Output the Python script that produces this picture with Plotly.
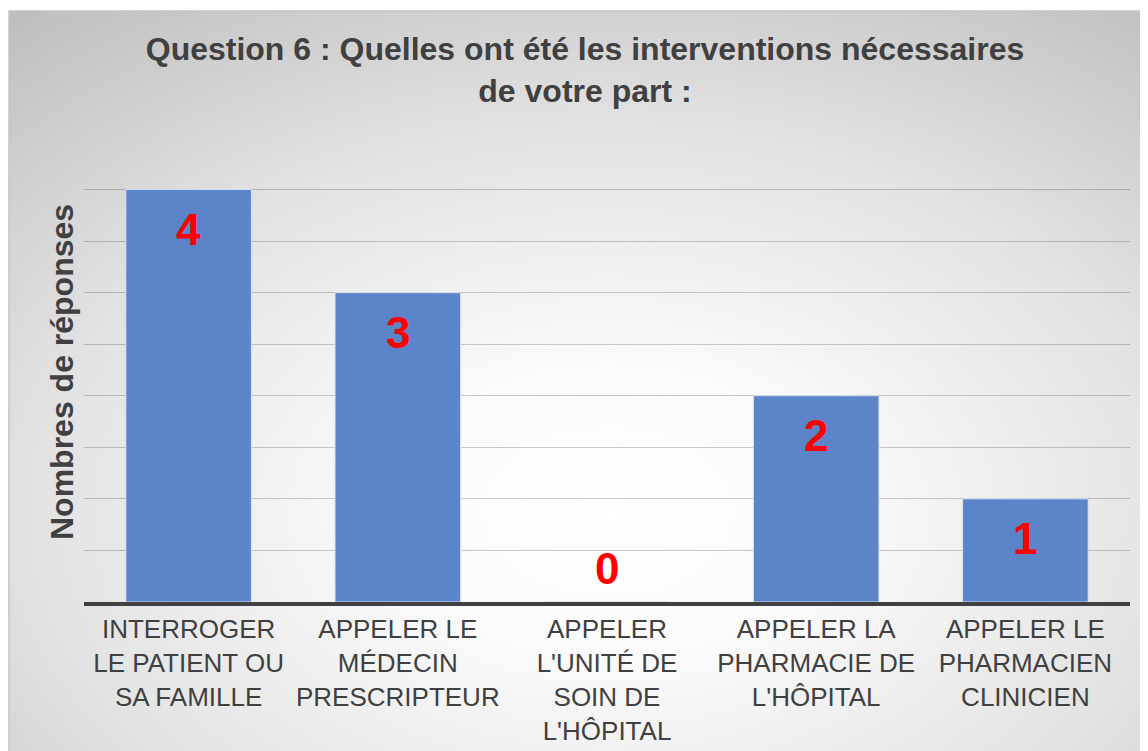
import base64
import plotly.graph_objects as go

categories = [
    "INTERROGER<br>LE PATIENT OU<br>SA FAMILLE",
    "APPELER LE<br>MÉDECIN<br>PRESCRIPTEUR",
    "APPELER<br>L'UNITÉ DE<br>SOIN DE<br>L'HÔPITAL",
    "APPELER LA<br>PHARMACIE DE<br>L'HÔPITAL",
    "APPELER LE<br>PHARMACIEN<br>CLINICIEN",
]
values = [4, 3, 0, 2, 1]
title_text = "Question 6 : Quelles ont été les interventions nécessaires<br>de votre part :"
y_title = "Nombres de réponses"

FONT = "Liberation Sans, Arial, sans-serif"
TXT = "#404040"

OFF = 8  # page body margin
W, H = 1148, 751
ML, MT = 84 - OFF, 138 - OFF
MR = W - (1130 - OFF)
MB = H - (602 - OFF)
PW, PH = W - ML - MR, H - MT - MB

def px_to_paper_x(px):
    return (px - OFF - ML) / PW

def px_to_paper_y(py):
    return (H - MB - (py - OFF)) / PH

svg = """<svg xmlns='http://www.w3.org/2000/svg' width='1132' height='750' viewBox='0 0 1 1' preserveAspectRatio='none'>
<defs><radialGradient id='g' cx='0.53' cy='0.66' r='0.85' gradientUnits='objectBoundingBox'>
<stop offset='0' stop-color='#ffffff'/>
<stop offset='0.22' stop-color='#fbfbfb'/>
<stop offset='0.6' stop-color='#e2e2e2'/>
<stop offset='1' stop-color='#bdbdbd'/>
</radialGradient></defs>
<rect x='0' y='0' width='1' height='1' fill='url(#g)'/>
</svg>"""
uri = "data:image/svg+xml;base64," + base64.b64encode(svg.encode()).decode()

bx0, bx1, by0, by1 = px_to_paper_x(9), px_to_paper_x(1141), px_to_paper_y(11), px_to_paper_y(770)

fig = go.Figure()
fig.add_trace(go.Bar(
    x=categories, y=values,
    marker=dict(color="#5b84c9", line=dict(color="rgba(220,230,245,0.9)", width=1)),
    width=0.6, hoverinfo="skip",
))

annotations = []
for c, v in zip(categories, values):
    annotations.append(dict(
        x=c, y=v, xref="x", yref="y", text=str(v), showarrow=False,
        yanchor="middle", yshift=-40 if v > 0 else 34,
        font=dict(family=FONT, size=44, color="#ff0000", weight="bold"),
    ))
annotations.append(dict(
    x=px_to_paper_x(62), y=px_to_paper_y(372), xref="paper", yref="paper",
    text=y_title, textangle=-90, showarrow=False, xanchor="center", yanchor="middle",
    font=dict(family=FONT, size=32, color=TXT, weight="bold"),
))

fig.update_layout(
    width=W, height=H,
    margin=dict(l=ML, r=MR, t=MT, b=MB, autoexpand=False),
    paper_bgcolor="white", plot_bgcolor="rgba(0,0,0,0)",
    showlegend=False,
    title=dict(text=title_text, x=px_to_paper_x(585), xref="paper", xanchor="center",
               y=1 - 52 / H, yref="container", yanchor="middle",
               font=dict(family=FONT, size=32, color=TXT, weight="bold")),
    font=dict(family=FONT, color=TXT),
    bargap=0.4,
    xaxis=dict(showline=True, linecolor="#404040", linewidth=4, showgrid=False,
               ticks="", tickfont=dict(family=FONT, size=26, color=TXT),
               tickangle=0, ticklabelstandoff=1, automargin=False, fixedrange=True),
    yaxis=dict(range=[0, 4.5], dtick=0.5, showgrid=True, gridcolor="rgba(0,0,0,0.2)",
               gridwidth=1, showticklabels=False, zeroline=False, showline=False,
               automargin=False, fixedrange=True),
    images=[dict(source=uri, xref="paper", yref="paper", x=bx0, y=by0,
                 sizex=bx1 - bx0, sizey=by0 - by1, sizing="stretch",
                 xanchor="left", yanchor="top", layer="below")],
    shapes=[dict(type="rect", xref="paper", yref="paper", x0=bx0, x1=bx1, y0=by1, y1=by0,
                 line=dict(color="#c4c4c4", width=1.5), fillcolor="rgba(0,0,0,0)", layer="below")],
    annotations=annotations,
)

fig.write_html("out.html")
